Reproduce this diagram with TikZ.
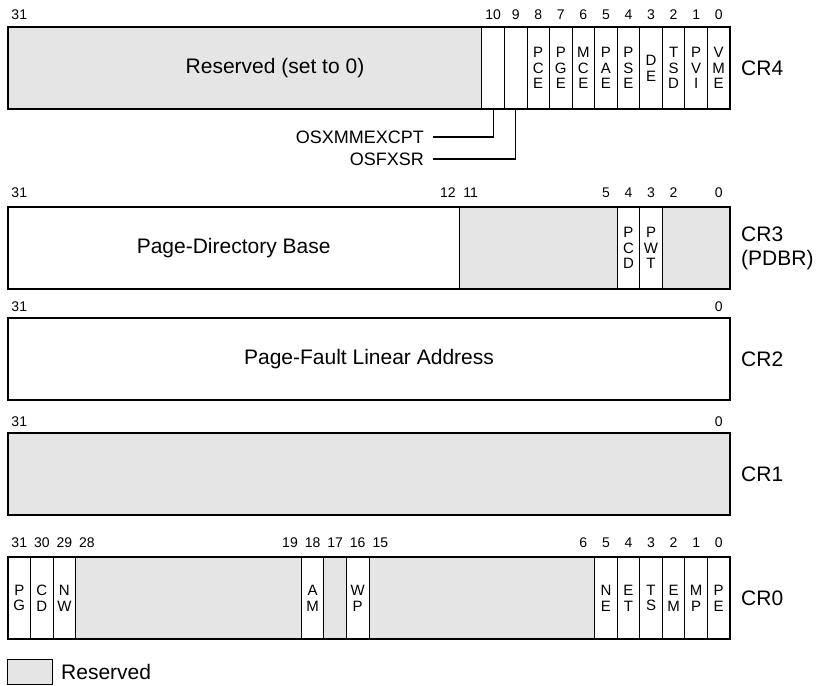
\documentclass[tikz,border=0pt]{standalone}
\usepackage{fontspec}
\setmainfont{Liberation Sans}
\usetikzlibrary{positioning}

% one field of a register: name, high bit, low bit, top edge, style, text
\newcommand{\bitfield}[6]{%
  \node[field, #5, minimum width={(#2-#3+1)*22.5625}]
    (#1) at ({8+(31-#2)*22.5625}, #4) {#6};}

\begin{document}
\begin{tikzpicture}[
    x=1pt, y=-1pt,
    field/.style={draw, line width=0.8pt, anchor=north west, minimum height=82pt,
      inner sep=0pt, outer sep=0pt, align=center,
      font=\fontsize{15}{15.8}\selectfont},
    rsv/.style={fill=gray!20},
    regbox/.style={draw, line width=1.8pt, anchor=north west, minimum width=722pt,
      minimum height=82pt, inner sep=0pt, outer sep=0pt},
    bitno/.style={anchor=south, inner sep=0pt, font=\fontsize{14}{14}\selectfont},
    big/.style={font=\fontsize{21}{24}\selectfont, inner sep=1pt},
    flagname/.style={anchor=east, inner ysep=0pt, inner xsep=9pt,
      font=\fontsize{18}{20}\selectfont},
    lead/.style={line width=1.2pt}
  ]
  \useasboundingbox (0,0) rectangle (818,685);

  % CR4
  \bitfield{cr4rsv}{31}{11}{27}{rsv}{}
  \bitfield{cr4b10}{10}{10}{27}{}{}
  \bitfield{cr4b9}{9}{9}{27}{}{}
  \bitfield{cr4pce}{8}{8}{27}{}{P\\C\\E}
  \bitfield{cr4pge}{7}{7}{27}{}{P\\G\\E}
  \bitfield{cr4mce}{6}{6}{27}{}{M\\C\\E}
  \bitfield{cr4pae}{5}{5}{27}{}{P\\A\\E}
  \bitfield{cr4pse}{4}{4}{27}{}{P\\S\\E}
  \bitfield{cr4de}{3}{3}{27}{}{D\\E}
  \bitfield{cr4tsd}{2}{2}{27}{}{T\\S\\D}
  \bitfield{cr4pvi}{1}{1}{27}{}{P\\V\\I}
  \bitfield{cr4vme}{0}{0}{27}{}{V\\M\\E}
  \node[big] (cr4txt) at (275,68) {Reserved (set to 0)};
  \node[regbox] (cr4) at (8,27) {};
  \node[big, right=10pt of cr4] (cr4name) {CR4};
  \foreach \b in {31,10,9,...,0}
    \node[bitno] (cr4n\b) at ({8+(31.5-\b)*22.5625}, 20) {\b};

  \node[flagname] (osxmm) at (433,137) {OSXMMEXCPT};
  \node[flagname] (osfx) at (433,159) {OSFXSR};
  \draw[lead] (osxmm.east) -| (cr4b10.south);
  \draw[lead] (osfx.east) -| (cr4b9.south);

  % CR3
  \bitfield{cr3base}{31}{12}{207}{big}{Page-Directory Base}
  \bitfield{cr3rsv}{11}{5}{207}{rsv}{}
  \bitfield{cr3pcd}{4}{4}{207}{}{P\\C\\D}
  \bitfield{cr3pwt}{3}{3}{207}{}{P\\W\\T}
  \bitfield{cr3low}{2}{0}{207}{rsv}{}
  \node[regbox] (cr3) at (8,207) {};
  \node[big, right=10pt of cr3, align=left] (cr3name) {CR3\\(PDBR)};
  \foreach \b in {31,12,11,5,4,3,2,0}
    \node[bitno] (cr3n\b) at ({8+(31.5-\b)*22.5625}, 198) {\b};

  % CR2
  \bitfield{cr2addr}{31}{0}{318}{big}{Page-Fault Linear Address}
  \node[regbox] (cr2) at (8,318) {};
  \node[big, right=10pt of cr2] (cr2name) {CR2};
  \foreach \b in {31,0}
    \node[bitno] (cr2n\b) at ({8+(31.5-\b)*22.5625}, 312) {\b};

  % CR1
  \bitfield{cr1rsv}{31}{0}{433}{rsv}{}
  \node[regbox] (cr1) at (8,433) {};
  \node[big, right=10pt of cr1] (cr1name) {CR1};
  \foreach \b in {31,0}
    \node[bitno] (cr1n\b) at ({8+(31.5-\b)*22.5625}, 427) {\b};

  % CR0
  \bitfield{cr0pg}{31}{31}{557}{}{P\\G}
  \bitfield{cr0cd}{30}{30}{557}{}{C\\D}
  \bitfield{cr0nw}{29}{29}{557}{}{N\\W}
  \bitfield{cr0rsva}{28}{19}{557}{rsv}{}
  \bitfield{cr0am}{18}{18}{557}{}{A\\M}
  \bitfield{cr0rsvb}{17}{17}{557}{rsv}{}
  \bitfield{cr0wp}{16}{16}{557}{}{W\\P}
  \bitfield{cr0rsvc}{15}{6}{557}{rsv}{}
  \bitfield{cr0ne}{5}{5}{557}{}{N\\E}
  \bitfield{cr0et}{4}{4}{557}{}{E\\T}
  \bitfield{cr0ts}{3}{3}{557}{}{T\\S}
  \bitfield{cr0em}{2}{2}{557}{}{E\\M}
  \bitfield{cr0mp}{1}{1}{557}{}{M\\P}
  \bitfield{cr0pe}{0}{0}{557}{}{P\\E}
  \node[regbox] (cr0) at (8,557) {};
  \node[big, right=10pt of cr0] (cr0name) {CR0};
  \foreach \b in {31,30,29,28,19,18,17,16,15,6,5,4,3,2,1,0}
    \node[bitno] (cr0n\b) at ({8+(31.5-\b)*22.5625}, 548) {\b};

  % legend
  \node[field, rsv, minimum width=45pt, minimum height=25pt] (legend) at (7,659) {};
  \node[big, right=8pt of legend] (legendtxt) {Reserved};
\end{tikzpicture}
\end{document}
